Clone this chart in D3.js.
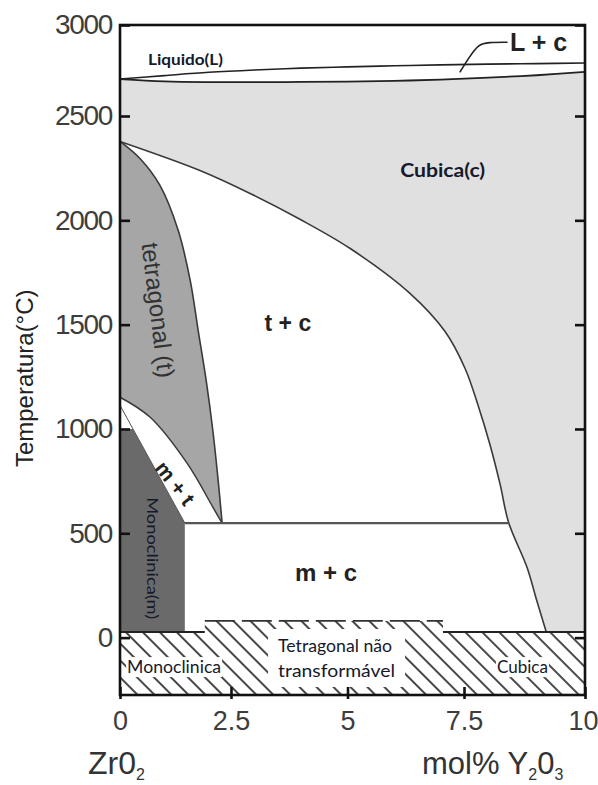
<!DOCTYPE html>
<html><head><meta charset="utf-8">
<script src="https://cdn.jsdelivr.net/npm/d3@7"></script>
<style>body{margin:0;background:#fff} svg{display:block}</style>
</head><body>
<svg id="chart" width="598" height="785"></svg>
<script>
// ---------- data ----------
const xTickValues = [0, 2.5, 5, 7.5, 10];
const xTickLabels = ["0", "2.5", "5", "7.5", "10"];
const yTickValues = [0, 500, 1000, 1500, 2000, 2500, 3000];
const yTickLabels = ["0", "500", "1000", "1500", "2000", "2500", "3000"];

// phase boundaries: [mol% Y2O3, temperature °C]
const liquidus = [[0,2703],[1,2722],[2,2740],[3,2753],[4,2763],[5,2770],[6,2776],[7,2781],[8,2785],[9,2788],[10,2791]];
const solidus  = [[0,2703],[1,2690],[2,2686],[3,2686],[4,2687],[5,2689],[6,2693],[7,2700],[8,2711],[9,2724],[10,2742]];
const cubicSolvus = [[0,2378],[1.8,2239],[2.91,2129],[3.98,2005],[5.05,1866],[6.34,1650],[7.09,1468],[7.52,1291],[7.79,1114],[8.04,922],[8.25,731],[8.42,553],[8.8,338],[9.0,180],[9.2,27]];
const tetragonalSolvus = [[0,2378],[0.45,2296],[0.9,2167],[1.31,1952],[1.58,1713],[1.76,1473],[1.94,1234],[2.09,994],[2.21,755],[2.3,549]];
const mtUpper = [[0,1152],[0.68,1056],[1.51,836],[2.09,626],[2.3,549]];
const mtLower = [[0,1113],[1.46,549]];
const monoclinicTop = [[0,1000],[0.29,1000],[1.46,549]];
const eutectoid = [[1.46,549],[8.42,549]];
const roomTemp = 27;          // top of the metastable (hatched) band
const metastableTop = 80;     // dashed limit of non-transformable tetragonal
const metastableRange = [1.91, 7.05];
const monoclinicLimit = 1.46;
const yBottom = -275;

// ---------- scales ----------
const svg = d3.select("#chart");
const x = d3.scaleLinear().domain([0, 2.5, 7.5, 10]).range([120, 231, 464, 585]);
const y = d3.scaleLinear().domain([yBottom, 2500, 3000]).range([695, 116, 25]);

const curve = d3.line().x(d => x(d[0])).y(d => y(d[1])).curve(d3.curveCatmullRom.alpha(0.5));
const straight = d3.line().x(d => x(d[0])).y(d => y(d[1]));
const L = (a, b) => `L${x(a)},${y(b)}`;

const C_CUBIC = "#e0e0e0", C_TET = "#a6a6a6", C_MONO = "#6a6a6a", C_LINE = "#3a3a3a";

// defs: hatch
const defs = svg.append("defs");
const pat = defs.append("pattern").attr("id", "hatch").attr("patternUnits", "userSpaceOnUse")
  .attr("width", 12).attr("height", 12).attr("patternTransform", "rotate(-45)");
pat.append("rect").attr("width", 12).attr("height", 12).attr("fill", "#fff");
pat.append("line").attr("x1", 2).attr("y1", 0).attr("x2", 2).attr("y2", 12)
  .attr("stroke", "#1a1a1a").attr("stroke-width", 1.6);

// background
svg.append("rect").attr("x", x(0)).attr("y", y(3000)).attr("width", x(10) - x(0)).attr("height", y(yBottom) - y(3000)).attr("fill", "#fff");

// cubic field below solidus
svg.append("path").attr("d", curve(solidus) + L(10, roomTemp) + L(0, roomTemp) + "Z").attr("fill", C_CUBIC);
// two-phase region below cubic solvus (white)
svg.append("path").attr("d", curve(cubicSolvus) + L(0, roomTemp) + "Z").attr("fill", "#fff");
// tetragonal field
svg.append("path").attr("d", curve(tetragonalSolvus) + L(monoclinicLimit, 549) + L(0, 1113) + "Z").attr("fill", C_TET);
// m + t band
svg.append("path").attr("d", curve(mtUpper) + L(monoclinicLimit, 549) + L(0, 1113) + "Z").attr("fill", "#fff");
// monoclinic field
svg.append("path").attr("d", `M${x(0)},${y(roomTemp)}` + straight(monoclinicTop).replace("M", "L") + L(monoclinicLimit, roomTemp) + "Z").attr("fill", C_MONO);

// boundary lines
const lines = svg.append("g").attr("fill", "none");
lines.append("path").attr("d", curve(liquidus)).attr("stroke", "#222").attr("stroke-width", 1.6);
lines.append("path").attr("d", curve(solidus)).attr("stroke", "#222").attr("stroke-width", 1.8);
lines.append("path").attr("d", curve(cubicSolvus)).attr("stroke", C_LINE).attr("stroke-width", 1.6);
lines.append("path").attr("d", curve(tetragonalSolvus)).attr("stroke", C_LINE).attr("stroke-width", 1.6);
lines.append("path").attr("d", curve(mtUpper)).attr("stroke", C_LINE).attr("stroke-width", 1.5);
lines.append("path").attr("d", straight(mtLower)).attr("stroke", "#555").attr("stroke-width", 1);
lines.append("path").attr("d", straight(eutectoid)).attr("stroke", "#555").attr("stroke-width", 2.2);

// hatched metastable band
const [m0, m1] = metastableRange;
svg.append("path").attr("d",
  `M${x(0)},${y(yBottom)}` + L(10, yBottom) + L(10, roomTemp) + L(m1, roomTemp) + L(m1, metastableTop) +
  L(m0, metastableTop) + L(m0, roomTemp) + L(0, roomTemp) + "Z").attr("fill", "url(#hatch)");
svg.append("path").attr("d", straight([[0, roomTemp], [m0, roomTemp]])).attr("stroke", "#222").attr("stroke-width", 1.8);
svg.append("path").attr("d", straight([[m1, roomTemp], [10, roomTemp]])).attr("stroke", "#222").attr("stroke-width", 1.8);
svg.append("path").attr("d", straight([[m0, metastableTop], [m1, metastableTop]])).attr("stroke", "#333")
  .attr("stroke-width", 1.8).attr("stroke-dasharray", "30,7");

// labels inside hatch with white backing
function backedText(lines, lens, px, py, size, lh, padX, padY) {
  const g = svg.append("g");
  const bg = g.append("rect").attr("fill", "#fff");
  const t = g.append("text").attr("font-family", "Lato, 'Open Sans', sans-serif").attr("font-size", size)
    .attr("fill", "#15192a").attr("x", px).attr("y", py);
  lines.forEach((s, i) => t.append("tspan").attr("x", px).attr("dy", i ? lh : 0)
    .attr("textLength", lens[i]).attr("lengthAdjust", "spacingAndGlyphs").text(s));
  const b = t.node().getBBox();
  bg.attr("x", b.x - padX).attr("y", b.y - padY).attr("width", b.width + 2 * padX).attr("height", b.height + 2 * padY);
}
backedText(["Monoclinica"], [94], x(0.16), y(-170), 16.5, 0, 1, 0);
backedText(["Tetragonal não", "transformável"], [114, 117], x(3.51), y(-69), 17, 25, 10, 6);
backedText(["Cubica"], [51], x(8.18), y(-170), 16.5, 0, 1, 0);

// ---------- axes ----------
const tickFont = "'Liberation Sans', Arial, sans-serif";
const yAxis = svg.append("g").attr("transform", `translate(${x(0)},0)`)
  .call(d3.axisLeft(y).tickValues(yTickValues).tickFormat((d, i) => yTickLabels[i]).tickSizeInner(-10).tickSizeOuter(0).tickPadding(8));
const yAxisR = svg.append("g").attr("transform", `translate(${x(10)},0)`)
  .call(d3.axisRight(y).tickValues(yTickValues).tickFormat("").tickSizeInner(-10).tickSizeOuter(0));
const xAxis = svg.append("g").attr("transform", `translate(0,${y(yBottom)})`)
  .call(d3.axisBottom(x).tickValues(xTickValues).tickFormat((d, i) => xTickLabels[i]).tickSizeInner(-8).tickSizeOuter(0).tickPadding(16));
[yAxis, yAxisR, xAxis].forEach(a => {
  a.select(".domain").remove();
  a.selectAll(".tick line").attr("stroke", "#111").attr("stroke-width", 2.6);
  a.selectAll("text").attr("font-family", tickFont).attr("font-size", 27).attr("fill", "#3d3d3d");
});
yAxis.selectAll("text").attr("font-size", 28).attr("letter-spacing", -1.3);
xAxis.selectAll(".tick line").attr("y1", 4);
// last x label sits against the page edge
xAxis.selectAll(".tick text").filter(d => d === 10).attr("text-anchor", "end").attr("x", 13);

// frame
svg.append("rect").attr("x", x(0)).attr("y", y(3000)).attr("width", x(10) - x(0)).attr("height", y(yBottom) - y(3000))
  .attr("fill", "none").attr("stroke", "#111").attr("stroke-width", 2.6);

// axis titles
svg.append("text").attr("transform", `translate(33,${y(1243)}) rotate(-90)`).attr("text-anchor", "middle")
  .attr("font-family", tickFont).attr("font-size", 24).attr("fill", "#222").text("Temperatura(°C)");
const zr = svg.append("text").attr("x", 88).attr("y", 774).attr("font-family", tickFont).attr("font-size", 32).attr("fill", "#333");
zr.append("tspan").text("Zr0");
zr.append("tspan").attr("font-size", 16).attr("dy", 6).text("2");
const mol = svg.append("text").attr("x", 422).attr("y", 774).attr("font-family", tickFont).attr("font-size", 31).attr("fill", "#333");
mol.append("tspan").text("mol% Y");
mol.append("tspan").attr("font-size", 16).attr("dy", 6).text("2");
mol.append("tspan").attr("dy", -6).text("0");
mol.append("tspan").attr("font-size", 16).attr("dy", 6).text("3");

// ---------- phase labels ----------
const lab = (txt, d, T, opts = {}) => {
  const t = svg.append("text").attr("x", 0).attr("y", 0)
    .attr("transform", `translate(${x(d)},${y(T)}) rotate(${opts.rot || 0})`)
    .attr("text-anchor", opts.anchor || "start")
    .attr("font-family", opts.font || "Lato, 'Open Sans', sans-serif")
    .attr("font-size", opts.size || 15).attr("font-weight", opts.weight || "normal")
    .attr("fill", opts.fill || "#15192a").text(txt);
  if (opts.len) t.attr("textLength", opts.len).attr("lengthAdjust", "spacingAndGlyphs");
  return t;
};
lab("Liquido(L)", 0.63, 2780, { size: 16, weight: 700, len: 75 });
lab("Cubica(c)", 6.13, 2210, { size: 19, weight: 700, len: 85 });
lab("L + c", 8.45, 2857, { font: tickFont, size: 25, weight: 700, fill: "#222" });
lab("t + c", 3.72, 1468, { font: tickFont, size: 23, weight: 700, fill: "#222", anchor: "middle" });
lab("m + c", 4.54, 271, { font: tickFont, size: 24, weight: 700, fill: "#222", anchor: "middle" });
lab("tetragonal (t)", 0.86, 1569, { font: tickFont, size: 24, fill: "#333", anchor: "middle", rot: 83 })
  .attr("dy", "0.35em");
lab("m + t", 1.24, 740, { font: tickFont, size: 21, weight: 700, fill: "#222", anchor: "middle", rot: 52 })
  .attr("dy", "0.35em");
lab("Monoclinica(m)", 0.72, 381, { size: 15, anchor: "middle", rot: 90, len: 122 }).attr("dy", "0.35em");

// leader for L + c
svg.append("path").attr("d", d3.line().x(d => x(d[0])).y(d => y(d[1])).curve(d3.curveBasis)(
  [[7.41, 2740], [7.6, 2820], [7.8, 2895], [8.0, 2905], [8.4, 2905]]))
  .attr("fill", "none").attr("stroke", "#222").attr("stroke-width", 1.6);
</script>
</body></html>
